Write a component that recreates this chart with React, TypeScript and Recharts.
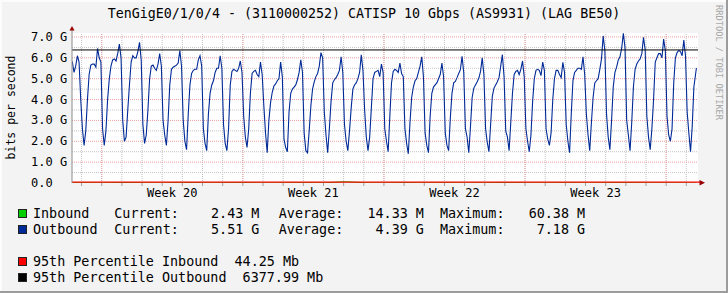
import React from 'react';
import { LineChart, Line, XAxis, YAxis, ReferenceLine, ReferenceArea } from 'recharts';

const TITLE = 'TenGigE0/1/0/4 - (3110000252) CATISP 10 Gbps (AS9931) (LAG BE50)';
const Y_LABEL = 'bits per second';
const WATERMARK = 'RRDTOOL / TOBI OETIKER';
const FONT = "'DejaVu Sans Mono', monospace";

// x axis: hours from the first midnight shown
const T_MIN = -11.4;
const T_MAX = 733.9;
const Y_MAX = 7.19;

const weekLabels = ['Week 20', 'Week 21', 'Week 22', 'Week 23'];
const weekCenterDays = [4.5, 11.5, 18.5, 25.5];
const weekStartDays = [1, 8, 15, 22, 29];
const dayMidnights = Array.from({ length: 31 }, (_, i) => i);

const yTicks = [0, 1, 2, 3, 4, 5, 6, 7];
const yMinor = [0.5, 1.5, 2.5, 3.5, 4.5, 5.5, 6.5];

// Outbound, Gbps. First (partial) day, then full days 0..29, then last partial day.
const firstDayHours = [11, 13, 15, 17, 19, 21, 23];
const firstDayOutbound = [5.9, 5.8, 5.3, 5.6, 6.1, 5.8, 4.0];

const sampleHours = [1, 3, 5, 7, 9, 11, 13, 15, 17, 19, 21, 23];
const outboundByDay = [
  [2.6, 1.8, 2.5, 4.0, 5.2, 5.65, 5.7, 5.7, 5.55, 6.45, 6.0, 5.8],
  [2.6, 1.8, 2.5, 4.0, 5.0, 5.6, 5.9, 5.95, 5.85, 6.2, 6.66, 6.0],
  [3.0, 2.0, 2.2, 3.5, 4.7, 5.8, 6.1, 6.0, 6.0, 6.3, 6.74, 5.9],
  [2.8, 1.9, 2.3, 3.5, 5.0, 5.6, 5.65, 5.5, 5.4, 5.7, 6.2, 5.6],
  [3.0, 2.3, 1.8, 3.0, 4.7, 5.45, 5.55, 5.6, 5.65, 5.75, 6.35, 5.6],
  [3.0, 2.0, 1.6, 3.3, 4.7, 5.25, 5.4, 5.45, 5.45, 5.9, 6.1, 5.6],
  [2.6, 1.9, 1.55, 3.3, 4.3, 4.7, 4.9, 5.3, 5.5, 5.5, 6.1, 5.5],
  [2.8, 1.9, 1.55, 2.6, 4.7, 5.35, 5.45, 5.4, 5.35, 5.5, 5.85, 5.3],
  [3.2, 2.2, 1.7, 2.6, 4.3, 5.25, 5.35, 5.4, 5.2, 5.1, 5.8, 5.2],
  [3.7, 2.4, 1.45, 3.0, 3.85, 4.35, 4.65, 4.75, 4.9, 5.0, 5.8, 5.1],
  [2.1, 1.7, 1.5, 3.4, 4.3, 4.5, 4.6, 4.7, 4.95, 5.3, 5.9, 5.3],
  [2.4, 1.55, 1.45, 2.5, 3.7, 4.5, 4.85, 5.1, 5.25, 5.6, 6.25, 6.0],
  [3.4, 2.3, 1.45, 2.6, 3.9, 4.8, 4.95, 5.05, 5.2, 5.4, 6.05, 5.3],
  [2.8, 2.0, 1.55, 2.5, 3.6, 4.5, 4.7, 4.8, 5.0, 5.3, 6.15, 5.4],
  [3.5, 2.2, 1.55, 2.2, 3.6, 5.0, 5.3, 5.35, 5.4, 5.1, 5.7, 5.3],
  [2.6, 2.0, 1.5, 3.2, 4.8, 5.35, 5.45, 5.4, 5.3, 5.75, 5.25, 5.1],
  [2.6, 1.9, 1.4, 2.9, 4.1, 4.6, 4.9, 5.0, 5.3, 5.6, 6.05, 5.1],
  [2.4, 1.8, 1.45, 3.2, 4.3, 4.6, 4.7, 4.8, 5.0, 5.2, 5.75, 5.1],
  [2.4, 1.8, 1.55, 3.1, 4.3, 4.8, 4.87, 5.05, 5.25, 5.43, 6.07, 5.3],
  [2.6, 2.2, 1.45, 2.7, 4.1, 4.55, 4.7, 4.85, 5.03, 5.35, 6.0, 5.2],
  [2.6, 1.95, 1.5, 2.8, 4.15, 4.55, 4.7, 4.85, 5.05, 5.6, 6.15, 5.1],
  [2.5, 2.2, 1.55, 2.9, 4.3, 5.2, 5.35, 5.4, 5.2, 5.45, 5.85, 5.1],
  [2.6, 2.0, 1.5, 2.3, 3.9, 5.0, 5.4, 5.45, 5.4, 5.15, 5.8, 5.4],
  [2.6, 2.1, 1.8, 2.4, 4.0, 5.0, 5.4, 5.4, 5.2, 5.05, 5.78, 5.3],
  [2.8, 2.0, 1.45, 3.3, 4.9, 5.3, 5.4, 5.5, 5.5, 5.45, 6.05, 5.2],
  [3.3, 2.3, 1.55, 2.9, 4.1, 4.8, 4.9, 5.0, 5.45, 5.95, 7.05, 6.35],
  [3.3, 2.2, 1.6, 3.0, 4.6, 5.3, 5.55, 5.9, 6.05, 6.45, 7.18, 6.5],
  [3.0, 2.3, 1.55, 2.9, 4.6, 5.45, 5.7, 5.85, 5.95, 6.2, 6.98, 6.4],
  [3.2, 2.2, 1.6, 2.6, 4.0, 5.8, 6.0, 6.2, 6.2, 6.0, 6.9, 6.35],
  [3.2, 2.3, 2.0, 2.6, 4.8, 6.0, 6.25, 6.35, 6.3, 6.1, 6.85, 6.1],
];
const lastDayHours = [1, 3, 5, 7, 9, 12];
const lastDayOutbound = [3.4, 2.4, 1.5, 2.7, 4.6, 5.51];

// Inbound, Mbps (one reading per day, first sample of each day)
const inboundDailyMb = [
  12, 18, 9, 25, 14, 8, 30, 11, 16, 22, 7, 13, 19, 10, 60.38, 15,
  9, 21, 12, 17, 8, 14, 26, 11, 13, 18, 9, 16, 20, 12, 10, 6,
];
const inboundCurrentMb = 2.43;

const p95InboundMb = 44.25;
const p95OutboundMb = 6377.99;

const legendRows = [
  { name: 'Inbound', color: '#00CF00', unit: 'M', cur: 2.43, avg: 14.33, max: 60.38 },
  { name: 'Outbound', color: '#002A97', unit: 'G', cur: 5.51, avg: 4.39, max: 7.18 },
];

function buildData() {
  const rows: { t: number; out: number; inb: number | null }[] = [];
  const pushDay = (day: number, hours: number[], vals: number[], inb: number) => {
    hours.forEach((h, i) => {
      rows.push({ t: day * 24 + h, out: vals[i], inb: i === 0 ? inb / 1000 : null });
    });
  };
  pushDay(-1, firstDayHours, firstDayOutbound, inboundDailyMb[0]);
  outboundByDay.forEach((vals, d) => pushDay(d, sampleHours, vals, inboundDailyMb[d + 1]));
  pushDay(30, lastDayHours, lastDayOutbound, inboundDailyMb[31]);
  rows[rows.length - 1].inb = inboundCurrentMb / 1000;
  return rows;
}

const weekCenterHours = weekCenterDays.map((d) => d * 24);
const midnightHours = dayMidnights.map((d) => d * 24);
const xTicks = [...midnightHours, ...weekCenterHours].sort((a, b) => a - b);

function XTick(props: any) {
  const { x, y, payload } = props;
  const idx = weekCenterHours.indexOf(payload.value);
  if (idx >= 0) {
    return (
      <text x={x} y={y + 14} textAnchor="middle" fontSize={12} fontFamily={FONT} fill="#000">
        {weekLabels[idx]}
      </text>
    );
  }
  return <line x1={x} y1={y} x2={x} y2={y + 3} stroke="#a0a0a0" strokeWidth={1} />;
}

function YTick(props: any) {
  const { x, y, payload } = props;
  const v = payload.value as number;
  const label = v === 0 ? '0.0' : `${v.toFixed(1)} G`;
  return (
    <text x={x - 41} y={y + 4} textAnchor="start" fontSize={12} fontFamily={FONT} fill="#000">
      {label}
    </text>
  );
}

const GRID_MINOR = '#c4c4c4';
const GRID_MAJOR = '#eba0a0';

export default function App() {
  const data = buildData();
  const fmt = (v: number) => v.toFixed(2).padStart(8, ' ');
  return (
    <div
      style={{
        position: 'fixed',
        left: 0,
        top: 0,
        width: 728,
        height: 293,
        background: '#F3F3F3',
        overflow: 'hidden',
      }}
    >
      <LineChart width={728} height={293} data={data} margin={{ top: 33, right: 30, bottom: 90, left: 0 }}>
        <XAxis
          dataKey="t"
          type="number"
          domain={[T_MIN, T_MAX]}
          allowDataOverflow
          ticks={xTicks}
          interval={0}
          tick={<XTick />}
          tickLine={false}
          axisLine={false}
          tickSize={0}
          tickMargin={0}
          height={20}
        />
        <YAxis
          type="number"
          domain={[0, Y_MAX]}
          allowDataOverflow
          ticks={yTicks}
          interval={0}
          tick={<YTick />}
          tickLine={false}
          axisLine={{ stroke: '#8c8c8c' }}
          tickSize={0}
          tickMargin={0}
          width={72}
        />
        <ReferenceArea x1={T_MIN} x2={T_MAX} y1={0} y2={Y_MAX} fill="#ffffff" fillOpacity={1} stroke="none" />
        {yMinor.map((v) => (
          <ReferenceLine key={'ym' + v} y={v} stroke={GRID_MINOR} strokeDasharray="1 1" />
        ))}
        {midnightHours.map((t) => (
          <ReferenceLine key={'xm' + t} x={t} stroke={GRID_MINOR} strokeDasharray="1 1" />
        ))}
        {yTicks.filter((v) => v > 0).map((v) => (
          <ReferenceLine key={'yM' + v} y={v} stroke={GRID_MAJOR} strokeDasharray="1 1" />
        ))}
        {weekStartDays.map((d) => (
          <ReferenceLine key={'xM' + d} x={d * 24} stroke={GRID_MAJOR} strokeDasharray="1 1" />
        ))}
        <Line
          dataKey="out"
          type="linear"
          stroke="#002A97"
          strokeWidth={1.1}
          dot={false}
          activeDot={false}
          isAnimationActive={false}
        />
        <Line
          dataKey="inb"
          type="linear"
          stroke="#00CF00"
          strokeWidth={1}
          dot={false}
          activeDot={false}
          connectNulls
          isAnimationActive={false}
        />
        <ReferenceLine y={p95InboundMb / 1000} stroke="#FF0000" strokeWidth={1.2} />
        <ReferenceLine y={p95OutboundMb / 1000} stroke="#000000" strokeWidth={1} />
      </LineChart>
      <svg
        width={728}
        height={293}
        style={{ position: 'absolute', left: 0, top: 0, pointerEvents: 'none' }}
        fontFamily={FONT}
      >
        <rect x={0} y={0} width={728} height={2} fill="#fcfcfc" />
        <rect x={0} y={0} width={2} height={293} fill="#fcfcfc" />
        <rect x={726} y={0} width={2} height={293} fill="#9c9c9c" />
        <rect x={0} y={291} width={728} height={2} fill="#9c9c9c" />
        <text x={364} y={18} textAnchor="middle" fontSize={13.3} fill="#000">
          {TITLE}
        </text>
        <text transform="translate(15,107.5) rotate(-90)" textAnchor="middle" fontSize={11.5} fill="#000">
          {Y_LABEL}
        </text>
        <text transform="translate(716,5) rotate(90)" fontSize={8.7} fill="#a8a8a8">
          {WATERMARK}
        </text>
        {/* axis arrows */}
        <line x1={72} y1={33} x2={72} y2={29} stroke="#8c8c8c" />
        <polygon points="69.5,30.5 74.5,30.5 72,26" fill="#990000" />
        <line x1={698} y1={182.1} x2={700} y2={182.1} stroke="#FF0000" strokeWidth={1.2} />
        <polygon points="699.5,180 699.5,185.5 705,182.7" fill="#990000" />
        {/* legend */}
        {legendRows.map((r, i) => {
          const base = 218 + i * 16;
          return (
            <g key={r.name} fontSize={13.4} fill="#000">
              <rect x={18.5} y={base - 8.5} width={8} height={8} fill={r.color} stroke="#222" strokeWidth={1} />
              <text x={33} y={base} xmlSpace="preserve" style={{ whiteSpace: 'pre' }}>{r.name}</text>
              <text x={114.3} y={base} xmlSpace="preserve" style={{ whiteSpace: 'pre' }}>
                {`Current:${fmt(r.cur)} ${r.unit}`}
              </text>
              <text x={278.8} y={base} xmlSpace="preserve" style={{ whiteSpace: 'pre' }}>
                {`Average:${fmt(r.avg)} ${r.unit}`}
              </text>
              <text x={440} y={base} xmlSpace="preserve" style={{ whiteSpace: 'pre' }}>
                {`Maximum:${fmt(r.max)} ${r.unit}`}
              </text>
            </g>
          );
        })}
        <g fontSize={13.4} fill="#000">
          <rect x={18.5} y={257.5} width={8} height={8} fill="#FF0000" stroke="#222" strokeWidth={1} />
          <text x={33} y={266} xmlSpace="preserve" style={{ whiteSpace: 'pre' }}>
            {`95th Percentile Inbound  ${p95InboundMb.toFixed(2)} Mb`}
          </text>
          <rect x={18.5} y={273.5} width={8} height={8} fill="#000000" stroke="#222" strokeWidth={1} />
          <text x={33} y={282} xmlSpace="preserve" style={{ whiteSpace: 'pre' }}>
            {`95th Percentile Outbound  ${p95OutboundMb.toFixed(2)} Mb`}
          </text>
        </g>
      </svg>
    </div>
  );
}
